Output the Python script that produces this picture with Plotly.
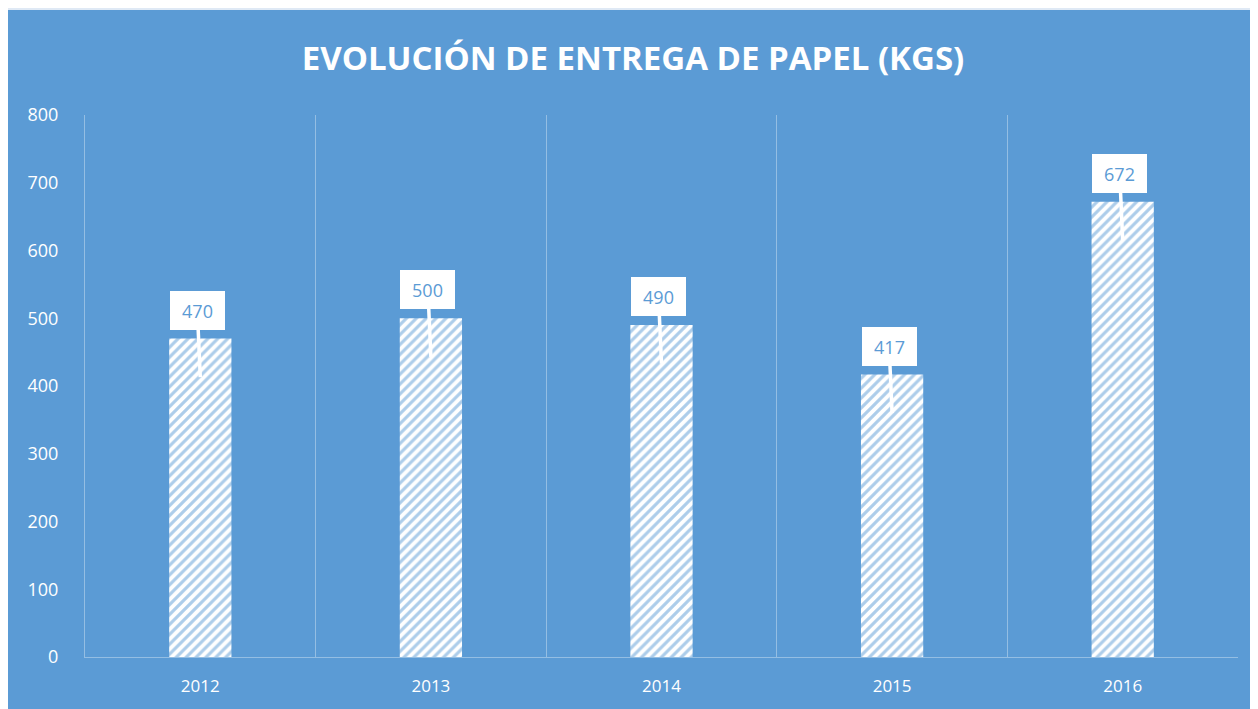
import plotly.graph_objects as go

years = ["2012", "2013", "2014", "2015", "2016"]
values = [470, 500, 490, 417, 672]
y_ticks = [0, 100, 200, 300, 400, 500, 600, 700, 800]

BLUE = "#5b9bd5"
GRID = "rgba(255,255,255,0.35)"
idx = list(range(len(years)))

fig = go.Figure()
fig.add_trace(go.Bar(
    x=idx, y=values, width=0.27,
    marker=dict(color="white", line=dict(width=0),
                pattern=dict(shape="/", fgcolor=BLUE, fillmode="overlay", size=7, solidity=0.45)),
    hoverinfo="skip",
))

annotations = []
for i, v in zip(idx, values):
    annotations.append(dict(
        x=i, y=v - 57, xref="x", yref="y",
        ax=-3, ay=v + 42, axref="pixel", ayref="y",
        text=str(v), showarrow=True, arrowhead=0, arrowwidth=3.5, arrowcolor="white",
        standoff=0, startstandoff=0,
        bgcolor="white", bordercolor="white", borderwidth=1, borderpad=4,
        width=45, height=29,
        font=dict(family="Open Sans", size=18, color=BLUE),
    ))

fig.update_layout(
    width=1250, height=701,
    paper_bgcolor="#dfe9f5", plot_bgcolor=BLUE,
    margin=dict(l=77, r=20, t=107, b=52),
    showlegend=False,
    title=dict(text="<b>EVOLUCIÓN DE ENTREGA DE PAPEL (KGS)</b>", x=0.5, xanchor="center",
               y=1 - 50 / 701, yanchor="middle",
               font=dict(family="Open Sans", size=33, color="white")),
    annotations=annotations,
    shapes=[dict(type="rect", xref="paper", yref="paper", x0=-0.0668, x1=1.2, y0=-0.3, y1=1.1937,
                 fillcolor=BLUE, line=dict(width=0), layer="below")],
    xaxis=dict(range=[-0.5, 4.5], tickmode="array", tickvals=idx, ticktext=years,
               showgrid=False, zeroline=False, showline=True, linecolor=GRID, linewidth=1,
               ticks="", ticklabelstandoff=14, automargin=False,
               tickfont=dict(family="Open Sans", size=17, color="white"),
               minor=dict(tickmode="array", tickvals=[i - 0.5 for i in idx] + [idx[-1] + 0.5],
                          showgrid=True, gridcolor=GRID, gridwidth=1, ticks="")),
    yaxis=dict(range=[0, 800], tickmode="array", tickvals=y_ticks, showgrid=False,
               zeroline=False, showline=True, linecolor=GRID, ticks="", ticklabelstandoff=22,
               automargin=False,
               tickfont=dict(family="Open Sans", size=18, color="white")),
)

fig.write_html("out.html")
